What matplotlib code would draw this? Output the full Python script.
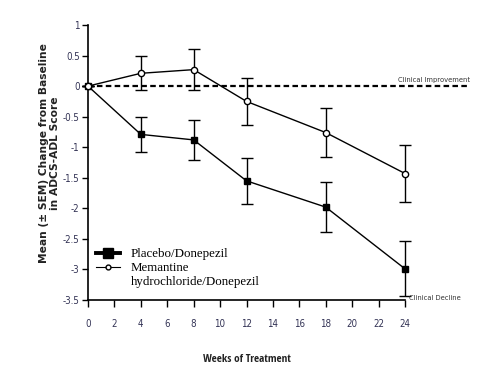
import matplotlib
matplotlib.use("Agg")
import matplotlib.pyplot as plt
from matplotlib import font_manager
from matplotlib.font_manager import FontProperties
from matplotlib.lines import Line2D

weeks = [0, 4, 8, 12, 18, 24]
placebo = [0, -0.79, -0.88, -1.55, -1.98, -2.99]
placebo_err = [0, 0.29, 0.33, 0.38, 0.41, 0.45]
memantine = [0, 0.21, 0.27, -0.25, -0.76, -1.43]
memantine_err = [0, 0.28, 0.33, 0.38, 0.40, 0.47]
xticks = list(range(0, 25, 2))
yticks = [1, 0.5, 0, -0.5, -1, -1.5, -2, -2.5, -3, -3.5]
ytick_labels = ["1", "0.5", "0", "-0.5", "-1", "-1.5", "-2", "-2.5", "-3", "-3.5"]


def find_narrow(bold):
    cands = []
    for f in font_manager.fontManager.ttflist:
        p = f.fname.lower()
        n = f.name.lower() + " " + p
        if not ("narrow" in n or "condensed" in n):
            continue
        if "serif" in n or "mono" in n or "oblique" in p or "italic" in p:
            continue
        if ("bold" in p) != bold:
            continue
        cands.append(f.fname)
    cands.sort(key=lambda p: (0 if "liberation" in p.lower() else 1, len(p)))
    return cands[0] if cands else None


narrow_reg = find_narrow(False)
narrow_bold = find_narrow(True)


def nfp(size, bold=False):
    fn = narrow_bold if bold else narrow_reg
    if fn:
        return FontProperties(fname=fn, size=size)
    return FontProperties(family="DejaVu Sans", stretch="condensed", size=size,
                          weight="bold" if bold else "normal")


serif = "Liberation Serif"

fig = plt.figure(figsize=(4.93, 3.68), dpi=100)
ax = fig.add_axes([0.1785, 0.1848, 0.643, 0.7472])

ax.axhline(0, xmin=0, xmax=1.2, color="black", linestyle=(0, (2.5, 1.5)), lw=1.6,
           clip_on=False, zorder=1)

ax.errorbar(weeks, placebo, yerr=placebo_err, color="black", lw=1.0,
            marker="s", markersize=5, markerfacecolor="black", capsize=4,
            elinewidth=1.0, capthick=1.0, zorder=3, clip_on=False)
ax.errorbar(weeks, memantine, yerr=memantine_err, color="black", lw=1.0,
            marker="o", markersize=4.5, markerfacecolor="white", capsize=4,
            elinewidth=1.0, capthick=1.0, zorder=3, clip_on=False)

ax.set_xlim(0, 24)
ax.set_ylim(-3.5, 1)
ax.set_xticks(xticks)
ax.set_xticklabels([str(t) for t in xticks], fontproperties=nfp(7), color="#333355")
ax.set_yticks(yticks)
ax.set_yticklabels(ytick_labels, fontproperties=nfp(7), color="#333355")
ax.tick_params(axis="x", direction="out", length=5, width=1, pad=9)
ax.tick_params(axis="y", direction="out", length=4, width=1, pad=2)
for s in ["top", "right"]:
    ax.spines[s].set_visible(False)
for s in ["left", "bottom"]:
    ax.spines[s].set_linewidth(1.2)

ax.set_ylabel("Mean (\u00b1 SEM) Change from Baseline\nin ADCS-ADL Score",
              family="DejaVu Sans", fontsize=7.7, fontweight="bold",
              color="#222222", linespacing=1.2)
ax.yaxis.set_label_coords(-0.088, 0.535)
ax.set_xlabel("Weeks of Treatment", fontproperties=nfp(8, bold=True),
              color="#222222", labelpad=18)

ax.text(28.9, 0.05, "Clinical Improvement", fontproperties=nfp(5.4),
        ha="right", va="bottom", color="#333333")
ax.text(24.3, -3.47, "Clinical Decline", fontproperties=nfp(5.4),
        ha="left", va="center", color="#333333")

h1 = Line2D([], [], color="black", lw=2.8, marker="s", markersize=7)
h2 = Line2D([], [], color="black", lw=0.8, marker="o", markersize=3.5,
            markerfacecolor="white")
h3 = Line2D([], [], color="none", lw=0)
ax.legend([h1, h2, h3], ["Placebo/Donepezil", "Memantine", "hydrochloride/Donepezil"],
          loc="lower left", bbox_to_anchor=(0.0, 0.015), frameon=False,
          prop={"family": serif, "size": 9.3}, handlelength=1.9,
          handletextpad=0.8, labelspacing=0.15, borderaxespad=0.2)

fig.savefig("out.png", dpi=100)
